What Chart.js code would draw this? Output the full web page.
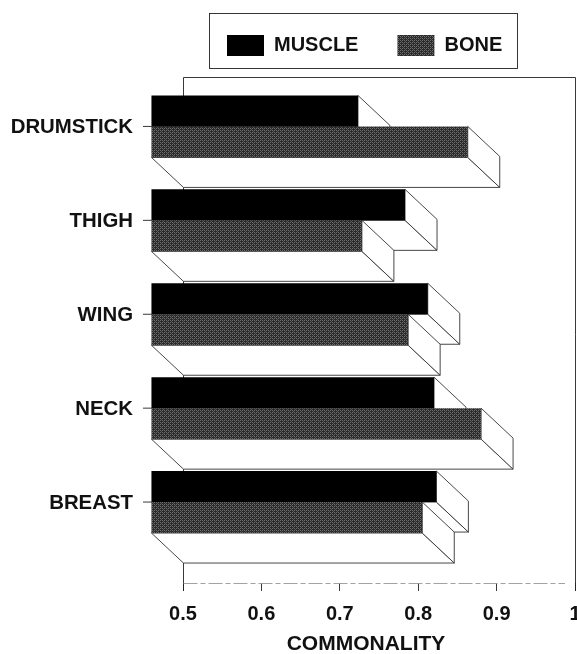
<!DOCTYPE html>
<html><head><meta charset="utf-8">
<style>html,body{margin:0;padding:0;background:#fff}canvas{display:block}</style>
<script src="https://cdn.jsdelivr.net/npm/chart.js@4"></script></head>
<body><canvas id="c" width="577" height="654"></canvas>
<script>
const categories = ['DRUMSTICK','THIGH','WING','NECK','BREAST'];
const muscle = [0.764,0.824,0.853,0.861,0.864];
const bone = [0.904,0.769,0.828,0.921,0.846];
const xTicks = [0.5,0.6,0.7,0.8,0.9,1];
const xTitle = 'COMMONALITY';
const FONT = '"Liberation Sans", Arial, sans-serif';
const INK = '#111';
const DX = 32, DY = 30, SHIFT_X = 32, SHIFT_Y = 34;

function stipple(){
  const t = document.createElement('canvas'); t.width = 4; t.height = 4;
  const g = t.getContext('2d');
  g.fillStyle = '#2a2a2a'; g.fillRect(0,0,4,4);
  g.fillStyle = '#6e6e6e';
  g.fillRect(0,0,1,1); g.fillRect(2,2,1,1); g.fillRect(2,0,1,1); g.fillRect(0,2,1,1);
  g.fillStyle = '#555'; g.fillRect(1,1,1,1); g.fillRect(3,3,1,1);
  return g.createPattern(t,'repeat');
}
const ctx0 = document.getElementById('c').getContext('2d');
const bonePattern = stipple();

function line(c,x1,y1,x2,y2){c.beginPath();c.moveTo(x1,y1);c.lineTo(x2,y2);c.stroke();}
function poly(c,pts){
  c.beginPath(); pts.forEach((p,i)=> i? c.lineTo(p[0],p[1]) : c.moveTo(p[0],p[1]));
  c.closePath(); c.fillStyle='#fff'; c.fill(); c.strokeStyle='#333'; c.lineWidth=0.9; c.stroke();
}
const depth = {
  id:'depth',
  afterLayout(chart){
    const l = chart.legend, p = chart.options.plugins.legend.labels.padding;
    const w = l.width;
    l.left = 227 - p; l.right = l.left + w; l.top = 35 - p; l.bottom = l.top + l.height;
    const x = chart.scales.x;
    x.right = x.left + 2*(366 - x.left);
  },
  beforeDatasetsDraw(chart){
    const c = chart.ctx, a = chart.chartArea;
    c.save();
    c.strokeStyle='#222'; c.lineWidth=0.9;
    c.strokeRect(209.5,13.5,308,55);
    line(c,183.5,77.5,575.5,77.5);
    line(c,183.5,77.5,183.5,591);
    line(c,575.5,77.5,575.5,591);
    c.strokeStyle='#999'; c.setLineDash([14,3,5,3]);
    line(c,183.5,a.bottom+0.5,565,a.bottom+0.5);
    c.setLineDash([]);
    c.strokeStyle='#222';
    const ys = chart.scales.y;
    categories.forEach((n,i)=>{const y=ys.getPixelForTick(i)-SHIFT_Y; line(c,143,y,151,y);});
    c.restore();
    c.save();
    c.translate(-SHIFT_X,-SHIFT_Y);
    const m = chart.getDatasetMeta(0).data, b = chart.getDatasetMeta(1).data;
    categories.forEach((n,i)=>{
      [m[i],b[i]].forEach(e=>{
        const h=e.height/2, x0=e.base, x1=e.x, t=e.y-h, bt=e.y+h;
        poly(c,[[x0,bt],[x0+DX,bt+DY],[x1+DX,bt+DY],[x1,bt]]);
        poly(c,[[x1,t],[x1+DX,t+DY],[x1+DX,bt+DY],[x1,bt]]);
      });
    });
  },
  afterDatasetsDraw(chart){ chart.ctx.restore(); }
};

new Chart(ctx0,{
  type:'bar',
  plugins:[depth],
  data:{labels:categories,datasets:[
    {label:'MUSCLE',data:muscle,base:0.5,backgroundColor:'#000',borderWidth:0,clip:false,categoryPercentage:0.66,barPercentage:1},
    {label:'BONE',data:bone,base:0.5,backgroundColor:bonePattern,borderWidth:0,clip:false,categoryPercentage:0.66,barPercentage:1}
  ]},
  options:{
    indexAxis:'y',responsive:false,animation:false,
    layout:{padding:{top:43.5,right:2,left:0,bottom:0}},
    plugins:{
      tooltip:{enabled:false},
      legend:{display:true,position:'top',align:'start',
        labels:{boxWidth:37,boxHeight:21,padding:39,color:INK,font:{family:FONT,size:20,weight:'bold'}}}
    },
    scales:{
      x:{type:'linear',min:0.5,max:1,
        afterBuildTicks(s){s.ticks=xTicks.map(v=>({value:v}));},
        afterFit(s){s.height=71;s.paddingLeft=0;s.paddingRight=0;},
        border:{display:false},
        grid:{drawOnChartArea:false,drawTicks:true,tickLength:8,color:'#222',lineWidth:0.9},
        ticks:{autoSkip:false,maxRotation:0,padding:11,color:INK,font:{family:FONT,size:20,weight:'bold'},
          callback:v=>String(+(+v).toFixed(1))},
        title:{display:true,text:xTitle,color:INK,padding:{top:6,bottom:-3},font:{family:FONT,size:21,weight:'bold'}}
      },
      y:{type:'category',z:1,
        afterFit(s){s.width=183;s.paddingTop=0;s.paddingBottom=0;},
        border:{display:false},
        grid:{display:false,drawTicks:false},
        ticks:{padding:50,labelOffset:-33,color:INK,font:{family:FONT,size:20.4,weight:'bold'}}
      }
    }
  }
});
</script></body></html>
